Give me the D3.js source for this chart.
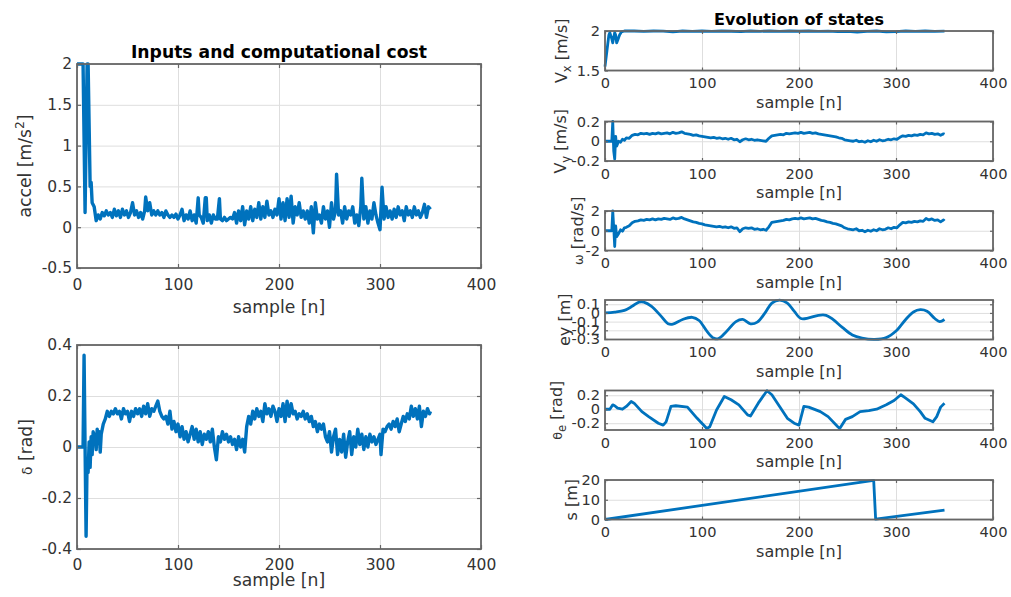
<!DOCTYPE html>
<html>
<head>
<meta charset="utf-8">
<script src="https://cdn.jsdelivr.net/npm/d3@7"></script>
<style>
  body { margin: 0; background: #fff; }
  svg { display: block; }
  text { font-family: "DejaVu Sans", sans-serif; }
</style>
</head>
<body>
<svg id="fig" width="1011" height="597"></svg>
<script>
// values (sample index / value pairs)
var xTicks = [0, 100, 200, 300, 400];

var accelN = [0,3,6,8,10,11,13,14,15,17,19,21,23,25,27,29,31,33,35,37,39,41,43,45,47,49,51,53,55,57,59,61,63,65,67,68,70,72,74,76,78,80,82,84,86,88,90,92,94,96,98,100,102,104,106,108,110,112,114,116,118,120,121,123,125,127,128,129,131,133,135,137,139,141,142,144,146,148,150,152,154,156,158,160,162,164,166,168,170,172,174,176,178,180,182,184,186,188,190,192,194,196,198,200,202,204,206,208,210,212,214,216,218,220,222,224,226,228,230,232,234,236,238,240,242,244,246,248,250,252,254,256,257,259,261,263,265,267,269,271,273,275,277,279,281,282,284,286,288,290,292,294,296,298,300,302,304,306,308,310,312,314,316,318,320,322,324,326,328,330,332,334,336,338,340,342,344,346,348,350];
var accel  = [2,2,2,0.18,2,2,0.5,0.55,0.3,0.25,0.08,0.15,0.1,0.18,0.14,0.2,0.15,0.18,0.12,0.22,0.14,0.2,0.12,0.22,0.15,0.2,0.12,0.18,0.3,0.15,0.2,0.12,0.18,0.1,0.2,0.37,0.2,0.3,0.15,0.2,0.15,0.2,0.15,0.18,0.12,0.2,0.15,0.12,0.15,0.12,0.16,0.1,0.15,0.22,0.08,0.15,0.1,0.2,0.08,0.15,0.05,0.36,0.15,0.12,0.05,0.36,0.36,0.08,0.15,0.05,0.15,0.1,0.1,0.35,0.1,0.08,0.12,0.08,0.1,0.12,0.1,0.18,0.05,0.2,0.08,0.25,0.03,0.2,0.1,0.25,0.08,0.22,0.12,0.3,0.1,0.25,0.12,0.32,0.15,0.2,0.12,0.22,0.15,0.35,0.1,0.3,0.08,0.35,0.12,0.38,0.05,0.25,0.15,0.3,0.12,0.2,0.1,0.2,0.05,0.25,-0.07,0.3,0.1,0.15,0.05,0.25,0.1,0.2,0.0,0.3,0.1,0.2,0.65,0.15,0.2,0.05,0.25,0.1,0.2,0.15,0.25,0.05,0.15,0.02,0.25,0.6,0.1,0.25,0.05,0.2,0.1,0.3,0.15,0.05,-0.03,0.49,0.1,0.25,0.12,0.2,0.1,0.22,0.12,0.25,0.15,0.2,0.08,0.25,0.15,0.2,0.12,0.25,0.15,0.2,0.12,0.18,0.28,0.12,0.25,0.22];

var deltaN = [0,6,7,8,9,10,11,12,13,14,15,16,17,18,19,20,21,22,23,24,26,28,30,32,34,36,38,40,42,44,46,48,50,52,54,56,58,60,62,64,66,68,70,72,74,76,78,80,82,84,86,88,90,92,94,96,98,100,102,104,106,108,110,112,114,116,118,120,122,124,126,128,130,132,134,136,138,140,142,144,146,148,150,152,154,156,158,160,162,164,166,168,170,172,174,176,178,180,182,184,186,188,190,192,194,196,198,200,202,204,206,208,210,212,214,216,218,220,222,224,226,228,230,232,234,236,238,240,242,244,246,248,250,252,254,256,258,260,262,264,266,268,270,272,274,276,278,280,282,284,286,288,290,292,294,296,298,300,301,303,305,307,309,311,313,315,317,319,321,323,325,327,329,331,333,335,337,339,341,343,345,347,349,350];
var delta  = [0,0,0.36,0.0,-0.35,-0.05,-0.1,0.02,-0.08,0.04,-0.03,0.06,0.02,0.05,-0.01,0.07,0.03,0.06,-0.02,0.05,0.09,0.11,0.14,0.12,0.14,0.13,0.15,0.13,0.14,0.11,0.15,0.13,0.14,0.10,0.14,0.12,0.15,0.13,0.15,0.12,0.16,0.13,0.17,0.12,0.15,0.14,0.16,0.18,0.14,0.12,0.11,0.12,0.09,0.14,0.07,0.1,0.06,0.09,0.04,0.08,0.03,0.06,0.02,0.05,0.08,0.03,0.07,0.02,0.06,0.01,0.05,0.03,0.06,0.02,0.07,0.0,-0.05,0.04,0.02,0.06,0.03,0.05,0.02,0.04,0.01,0.03,-0.01,0.04,0.0,0.03,-0.02,0.08,0.12,0.09,0.14,0.11,0.15,0.12,0.14,0.1,0.17,0.13,0.15,0.12,0.16,0.14,0.1,0.15,0.12,0.17,0.1,0.18,0.12,0.17,0.13,0.14,0.11,0.13,0.12,0.14,0.11,0.13,0.1,0.12,0.08,0.1,0.06,0.09,0.07,0.09,0.04,0.02,0.06,-0.02,0.04,0.07,-0.03,0.03,-0.02,0.05,-0.04,0.02,0.06,-0.03,0.04,0.0,0.07,0.01,0.05,-0.01,0.04,0.0,0.05,0.02,0.04,0.01,0.03,0.05,-0.03,0.07,0.06,0.08,0.09,0.07,0.1,0.08,0.11,0.06,0.09,0.12,0.1,0.13,0.11,0.16,0.12,0.15,0.11,0.16,0.08,0.14,0.12,0.15,0.13,0.14];

var vxN = [0,2,4,5,7,8,10,11,12,13,15,17,20,30,40,50,60,70,80,90,100,110,120,130,140,150,160,170,180,190,200,210,220,230,240,250,260,270,280,290,300,310,320,330,340,350];
var vx  = [1.55,1.75,1.95,1.98,1.9,1.85,1.98,1.95,1.85,1.88,1.95,1.99,2.0,2.0,1.995,2.0,1.998,1.99,2.0,1.996,2.0,1.995,2.0,1.997,1.993,2.0,1.996,2.0,1.995,2.0,1.997,2.0,1.995,1.998,1.992,1.995,1.985,1.995,2.0,1.99,1.993,2.0,1.995,2.0,1.995,1.998];

var vyN = [0,7,8,9,10,11,12,14,16,18,20,22,25,28,31,34,37,40,43,46,49,52,55,58,61,64,67,70,73,76,79,82,85,88,91,94,97,100,103,106,109,112,115,118,121,124,127,130,133,136,139,142,145,148,151,154,157,160,163,166,169,172,175,178,181,184,187,190,193,196,199,202,205,208,211,214,217,220,223,226,229,232,235,238,241,244,247,250,253,256,259,262,265,268,271,274,277,280,283,286,289,292,295,298,301,304,307,310,313,316,319,322,325,328,331,334,337,340,343,346,349,350];
var vy  = [0,0,0.2,-0.1,-0.18,0.05,-0.05,0.0,-0.01,0.02,0.01,0.035,0.03,0.06,0.07,0.065,0.08,0.075,0.08,0.07,0.08,0.075,0.085,0.075,0.08,0.085,0.075,0.09,0.08,0.085,0.095,0.08,0.075,0.07,0.06,0.065,0.055,0.05,0.045,0.04,0.035,0.04,0.03,0.035,0.025,0.03,0.02,0.03,0.015,0.02,-0.005,0.015,0.025,0.015,0.02,0.01,0.015,0.01,0.005,0.0,0.03,0.055,0.06,0.065,0.07,0.065,0.08,0.075,0.08,0.085,0.08,0.09,0.08,0.085,0.09,0.08,0.085,0.075,0.07,0.065,0.06,0.055,0.05,0.045,0.035,0.03,0.015,0.01,0.005,0.0,0.01,-0.005,0.0,-0.01,0.005,-0.005,0.01,0.0,0.015,0.005,0.01,0.02,0.015,0.025,0.02,0.04,0.055,0.05,0.06,0.055,0.065,0.06,0.07,0.065,0.085,0.075,0.08,0.07,0.075,0.06,0.075,0.07];

var omegaN = vyN;
var omega  = [0,0,2,0.3,-1.6,0.5,-0.6,-0.3,0.1,-0.05,0.3,0.35,0.5,0.8,0.95,1.0,1.1,1.05,1.15,1.1,1.2,1.1,1.2,1.15,1.25,1.2,1.15,1.3,1.2,1.25,1.35,1.2,1.1,1.0,0.9,0.85,0.75,0.7,0.6,0.55,0.5,0.45,0.4,0.45,0.35,0.4,0.3,0.4,0.25,0.3,-0.1,0.2,0.3,0.25,0.3,0.15,0.2,0.1,0.15,0.05,0.4,0.85,0.9,0.95,1.0,1.05,1.15,1.1,1.2,1.25,1.2,1.3,1.2,1.25,1.3,1.2,1.25,1.15,1.05,1.0,0.9,0.85,0.75,0.7,0.6,0.5,0.3,0.2,0.15,0.1,0.2,0.0,0.05,-0.1,0.05,-0.05,0.1,0.0,0.2,0.1,0.15,0.3,0.2,0.35,0.3,0.6,0.85,0.8,0.9,0.85,0.95,0.9,1.0,0.95,1.25,1.1,1.2,1.05,1.1,0.9,1.1,1.0];

var eyN = [0,10,20,28,35,40,48,58,65,70,80,90,97,105,112,117,125,135,142,150,157,165,172,180,188,195,202,210,220,228,235,245,255,265,278,290,300,310,318,325,332,340,345,350];
var ey  = [0.0,0.01,0.03,0.076,0.125,0.125,0.076,-0.04,-0.125,-0.13,-0.075,-0.05,-0.087,-0.21,-0.29,-0.295,-0.216,-0.1,-0.075,-0.125,-0.106,0.0,0.114,0.148,0.114,0.02,-0.064,-0.057,-0.027,-0.027,-0.075,-0.17,-0.254,-0.29,-0.305,-0.284,-0.208,-0.075,0.011,0.038,0.02,-0.064,-0.1,-0.076];

var thetaN = [0,5,8,10,13,18,22,27,30,38,45,55,60,63,68,73,85,95,105,108,115,123,130,138,147,150,158,167,172,180,188,195,200,205,210,222,230,240,242,248,255,263,272,280,290,298,305,310,318,325,330,338,342,346,350];
var theta  = [0,0,0.063,0.05,0.015,0,0.04,0.11,0.087,-0.034,-0.106,-0.2,-0.227,-0.18,0.04,0.05,0.03,-0.13,-0.275,-0.25,-0.01,0.183,0.135,0.063,-0.08,-0.096,0.087,0.265,0.207,0.04,-0.13,-0.2,-0.227,0.04,0.03,-0.034,-0.106,-0.25,-0.275,-0.145,-0.106,-0.034,-0.02,0,0.063,0.125,0.207,0.159,0.077,-0.034,-0.13,-0.18,-0.106,0.03,0.087];

var sN = [0,277,279,350];
var sv = [0,19.8,0.2,4.8];

var svg = d3.select("#fig");
var blue = "#0072bd";
var axisGrey = "#666";

function drawPanel(p) {
  var g = svg.append("g").attr("transform", "translate(" + p.x + "," + p.y + ")");
  var x = d3.scaleLinear().domain([0, 400]).range([0, p.w]);
  var y = d3.scaleLinear().domain(p.yDomain).range([p.h, 0]);

  // grid
  g.append("g").attr("transform", "translate(0," + p.h + ")")
    .call(d3.axisBottom(x).tickValues(xTicks).tickSize(-p.h).tickFormat(""))
    .call(s => s.select(".domain").remove())
    .selectAll("line").attr("stroke", "#dedede");
  g.append("g")
    .call(d3.axisLeft(y).tickValues(p.yTicks).tickSize(-p.w).tickFormat(""))
    .call(s => s.select(".domain").remove())
    .selectAll("line").attr("stroke", "#dedede");

  // data line
  var line = d3.line()
    .x((d, i) => x(p.n[i]))
    .y(d => y(d));
  if (p.smooth) line.curve(d3.curveCatmullRom);
  g.append("path")
    .datum(p.v)
    .attr("d", line)
    .attr("fill", "none")
    .attr("stroke", blue)
    .attr("stroke-width", p.lw)
    .attr("stroke-linejoin", "round");

  // box
  g.append("rect").attr("width", p.w).attr("height", p.h)
    .attr("fill", "none").attr("stroke", axisGrey).attr("stroke-width", 1.8);

  var tl = p.tl;
  // bottom axis with labels, inward ticks
  var xa = g.append("g").attr("transform", "translate(0," + p.h + ")")
    .call(d3.axisBottom(x).tickValues(xTicks).tickSizeInner(-tl).tickSizeOuter(0)
      .tickPadding(p.xPad).tickFormat(d3.format("d")));
  // left axis with labels
  var ya = g.append("g")
    .call(d3.axisLeft(y).tickValues(p.yTicks).tickSizeInner(-tl).tickSizeOuter(0)
      .tickPadding(5).tickFormat(d => String(d)));
  // top and right inward ticks
  var ta = g.append("g")
    .call(d3.axisTop(x).tickValues(xTicks).tickSizeInner(-tl).tickSizeOuter(0).tickFormat(""));
  var ra = g.append("g").attr("transform", "translate(" + p.w + ",0)")
    .call(d3.axisRight(y).tickValues(p.yTicks).tickSizeInner(-tl).tickSizeOuter(0).tickFormat(""));
  [xa, ya, ta, ra].forEach(a => {
    a.select(".domain").remove();
    a.selectAll("line").attr("stroke", axisGrey).attr("stroke-width", 1.2);
    a.selectAll("text").attr("fill", "#333").attr("font-size", p.fs)
      .attr("font-family", '"DejaVu Sans", sans-serif');
  });

  // x label
  g.append("text")
    .attr("x", p.w / 2).attr("y", p.h + p.xlDy).attr("dy", "0.35em")
    .attr("text-anchor", "middle").attr("fill", "#333").attr("font-size", p.ls)
    .text("sample [n]");

  // y label
  var yl = g.append("text")
    .attr("transform", "translate(" + (p.ylX - p.x) + "," + (p.h / 2) + ") rotate(-90)")
    .attr("dy", "0.35em")
    .attr("text-anchor", "middle").attr("fill", "#333").attr("font-size", p.ls);
  p.ylabel.forEach(part => {
    var t = yl.append("tspan").text(part.t);
    if (part.sub) t.attr("font-size", p.ls * 0.72).attr("dy", p.ls * 0.3);
    if (part.sup) t.attr("font-size", p.ls * 0.72).attr("dy", -p.ls * 0.4);
    if (part.back) t.attr("dy", part.back * p.ls);
    if (part.small) t.attr("font-size", p.ls * 0.8);
  });
  return g;
}

// left column
var L = { x: 77, w: 404, h: 204, tl: 4, fs: 15.5, ls: 17.2, lw: 3.4 };
drawPanel(Object.assign({}, L, {
  y: 64, n: accelN, v: accel, yDomain: [-0.5, 2], yTicks: [-0.5, 0, 0.5, 1, 1.5, 2],
  xPad: 11, xlDy: 39, ylX: 25,
  ylabel: [{ t: "accel [m/s" }, { t: "2", sup: true }, { t: "]", back: 0.4 }]
}));
drawPanel(Object.assign({}, L, {
  y: 345, n: deltaN, v: delta, yDomain: [-0.4, 0.4], yTicks: [-0.4, -0.2, 0, 0.2, 0.4],
  xPad: 9.5, xlDy: 31, ylX: 26,
  ylabel: [{ t: "\u03b4", small: true }, { t: " [rad]" }]
}));

// right column
var R = { x: 605, w: 388, h: 39.5, tl: 3, fs: 14.6, ls: 16, lw: 2.8, xPad: 7.5, xlDy: 31.5 };
var rightPanels = [
  { y: 31, n: vxN, v: vx, yDomain: [1.5, 2], yTicks: [1.5, 2], ylX: 561,
    ylabel: [{ t: "V" }, { t: "x", sub: true }, { t: " [m/s]", back: -0.3 }] },
  { y: 121.5, n: vyN, v: vy, yDomain: [-0.2, 0.2], yTicks: [-0.2, 0, 0.2], ylX: 560,
    ylabel: [{ t: "V" }, { t: "y", sub: true }, { t: " [m/s]", back: -0.3 }] },
  { y: 211, n: omegaN, v: omega, yDomain: [-2, 2], yTicks: [-2, 0, 2], ylX: 577,
    ylabel: [{ t: "\u03c9", small: true }, { t: " [rad/s]" }] },
  { y: 300, n: eyN, v: ey, yDomain: [-0.306, 0.149], yTicks: [-0.3, -0.2, -0.1, 0, 0.1], ylX: 564, smooth: true,
    ylabel: [{ t: "ey [m]" }] },
  { y: 390.5, n: thetaN, v: theta, yDomain: [-0.297, 0.268], yTicks: [-0.2, 0, 0.2], ylX: 556,
    ylabel: [{ t: "\u03b8", small: true }, { t: "e", sub: true }, { t: " [rad]", back: -0.3 }] },
  { y: 480, n: sN, v: sv, yDomain: [0, 20], yTicks: [0, 10, 20], ylX: 571,
    ylabel: [{ t: "s [m]" }] }
];
rightPanels.forEach(p => drawPanel(Object.assign({}, R, p)));

// titles
svg.append("text").attr("x", 279).attr("y", 57.5).attr("text-anchor", "middle")
  .attr("font-weight", "bold").attr("font-size", 17.2).attr("fill", "#000")
  .text("Inputs and computational cost");
svg.append("text").attr("x", 799).attr("y", 24.5).attr("text-anchor", "middle")
  .attr("font-weight", "bold").attr("font-size", 16).attr("fill", "#000")
  .text("Evolution of states");
</script>
</body>
</html>
